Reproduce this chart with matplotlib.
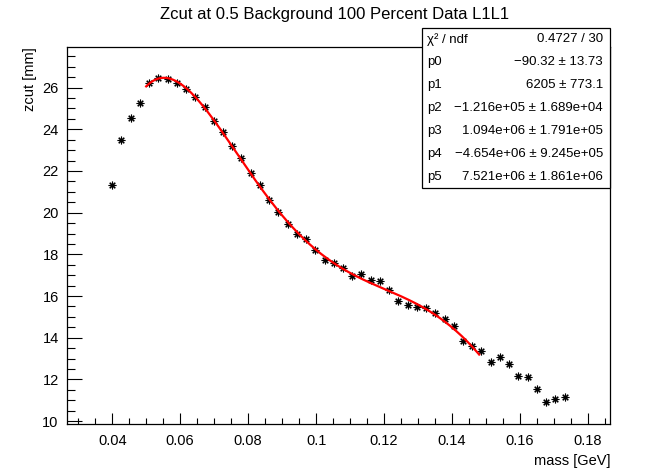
import numpy as np
import matplotlib
matplotlib.use("Agg")
import matplotlib.pyplot as plt
from matplotlib.ticker import MultipleLocator, FuncFormatter
from matplotlib.patches import Rectangle

plt.rcParams["font.family"] = ["Liberation Sans", "DejaVu Sans"]

# mass points [GeV]
mass = [0.04000, 0.04272, 0.04543, 0.04815, 0.05087, 0.05359, 0.05630, 0.05902,
        0.06174, 0.06445, 0.06717, 0.06989, 0.07260, 0.07532, 0.07804, 0.08076,
        0.08347, 0.08619, 0.08891, 0.09162, 0.09434, 0.09706, 0.09977, 0.10249,
        0.10521, 0.10793, 0.11064, 0.11336, 0.11608, 0.11879, 0.12151, 0.12423,
        0.12694, 0.12966, 0.13238, 0.13510, 0.13781, 0.14053, 0.14325, 0.14596,
        0.14868, 0.15140, 0.15411, 0.15683, 0.15955, 0.16227, 0.16498, 0.16770,
        0.17042, 0.17313]

# zcut values [mm]
zcut = [21.31, 23.49, 24.55, 25.25, 26.24, 26.45, 26.40, 26.23,
        25.94, 25.57, 25.06, 24.42, 23.86, 23.22, 22.60, 21.91,
        21.33, 20.59, 20.05, 19.45, 18.99, 18.72, 18.23, 17.75,
        17.57, 17.36, 16.95, 17.05, 16.77, 16.71, 16.29, 15.76,
        15.56, 15.48, 15.42, 15.21, 14.88, 14.58, 13.83, 13.59,
        13.36, 12.84, 13.07, 12.76, 12.17, 12.11, 11.52, 10.92,
        11.07, 11.16]

# pol5 fit range [GeV]
fit_lo, fit_hi = 0.0500, 0.1480

stat_labels = ["\u03c7\u00b2 / ndf", "p0", "p1", "p2", "p3", "p4", "p5"]
stat_values = ["0.4727 / 30",
               "\u221290.32 \u00b1 13.73",
               "6205 \u00b1 773.1",
               "\u22121.216e+05 \u00b1 1.689e+04",
               "1.094e+06 \u00b1 1.791e+05",
               "\u22124.654e+06 \u00b1 9.245e+05",
               "7.521e+06 \u00b1 1.861e+06"]

W, H = 669, 471
fig = plt.figure(figsize=(W / 100, H / 100), dpi=100)
fl, ft, fr, fb = 67, 47, 610, 424
ax = fig.add_axes([fl / W, 1 - fb / H, (fr - fl) / W, (fb - ft) / H])

x = np.array(mass)
y = np.array(zcut)

ax.plot(x, y, linestyle="none", marker=(8, 2, 0), markersize=5.5,
        markeredgewidth=0.8, color="black", zorder=3)

# polynomial fit over the fit window
sel = (x >= fit_lo) & (x <= fit_hi)
coef = np.polyfit(x[sel], y[sel], 5)
xf = np.linspace(fit_lo, fit_hi, 300)
ax.plot(xf, np.polyval(coef, xf), color="#ff0000", linewidth=1.6, zorder=4)

ax.set_xlim(0.0267, 0.1865)
ax.set_ylim(9.86, 27.95)

ax.xaxis.set_major_locator(MultipleLocator(0.02))
ax.xaxis.set_minor_locator(MultipleLocator(0.005))
ax.yaxis.set_major_locator(MultipleLocator(2))
ax.yaxis.set_minor_locator(MultipleLocator(0.5))
ax.xaxis.set_major_formatter(FuncFormatter(lambda v, p: f"{round(v, 3):g}"))
ax.yaxis.set_major_formatter(FuncFormatter(lambda v, p: f"{int(round(v))}"))

ax.tick_params(axis="both", which="both", direction="in", top=False, right=False,
               labelsize=10.5, colors="black", width=0.8)
ax.tick_params(axis="x", which="major", length=8, pad=7)
ax.tick_params(axis="x", which="minor", length=4)
ax.tick_params(axis="y", which="major", length=11, pad=6)
ax.tick_params(axis="y", which="minor", length=5.5)
for s in ax.spines.values():
    s.set_linewidth(0.9)
    s.set_color("black")

fig.text(fr / W, 1 - 461 / H, "mass [GeV]", ha="right", va="center", fontsize=10.5)
fig.text(30 / W, 1 - ft / H, "zcut [mm]", ha="center", va="top", rotation=90,
         fontsize=10.5)

fig.text(0.5, 1 - 14 / H, "Zcut at 0.5 Background 100 Percent Data L1L1",
         ha="center", va="center", fontsize=12)

# statistics box
bx0, by0, bx1, by1 = 422, 28, 610, 188
fig.patches.append(Rectangle((bx0 / W, 1 - by1 / H), (bx1 - bx0) / W, (by1 - by0) / H,
                             transform=fig.transFigure, facecolor="white",
                             edgecolor="black", linewidth=0.9, zorder=5))
row_h = (by1 - by0) / len(stat_labels)
for k, (lab, val) in enumerate(zip(stat_labels, stat_values)):
    yc = by0 + row_h * (k + 0.5)
    fig.text((bx0 + 5) / W, 1 - yc / H, lab, ha="left", va="center",
             fontsize=9.5, zorder=6)
    fig.text((bx1 - 7) / W, 1 - yc / H, val, ha="right", va="center",
             fontsize=9.5, zorder=6)

fig.savefig("out.png", dpi=100, facecolor="white")
